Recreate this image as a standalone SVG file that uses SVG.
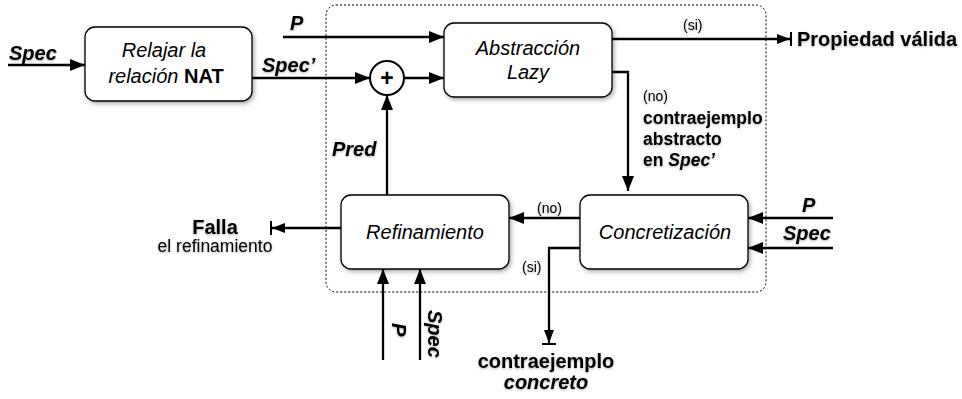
<svg xmlns="http://www.w3.org/2000/svg" width="962" height="399" viewBox="0 0 962 399">
<style>
.box{fill:#fff;stroke:#000;stroke-width:1.3}
.ln{fill:none;stroke:#000;stroke-width:2.3}
.bt{font-family:"Liberation Sans",Arial,sans-serif;font-size:20px;font-style:italic;text-anchor:middle}
.lb{font-family:"Liberation Sans",Arial,sans-serif;font-weight:bold;font-size:20px}
.bi{font-family:"Liberation Sans",Arial,sans-serif;font-weight:bold;font-style:italic;font-size:20px}
.sm{font-family:"Liberation Sans",Arial,sans-serif;font-size:14px}
.md{font-family:"Liberation Sans",Arial,sans-serif;font-size:17.5px}
.ab{font-family:"Liberation Sans",Arial,sans-serif;font-weight:bold;font-size:17.5px}
</style>
<defs>
<marker id="ah" viewBox="0 0 15 12" refX="15" refY="6" markerWidth="15" markerHeight="12" markerUnits="userSpaceOnUse" orient="auto">
<path d="M0,0 L15,6 L0,12 Z" fill="#000"/>
</marker>
<marker id="ahb" viewBox="0 0 15 14" refX="14" refY="7" markerWidth="15" markerHeight="14" markerUnits="userSpaceOnUse" orient="auto">
<path d="M0,2 L13,7 L0,12 Z" fill="#000"/>
<path d="M14,0 L14,14" stroke="#000" stroke-width="2"/>
</marker>
<filter id="sh" x="-10%" y="-10%" width="130%" height="130%">
<feDropShadow dx="1.5" dy="2" stdDeviation="2" flood-color="#000" flood-opacity="0.35"/>
</filter>
<filter id="ts" x="-10%" y="-20%" width="120%" height="150%">
<feDropShadow dx="0" dy="1" stdDeviation="1.2" flood-color="#000" flood-opacity="0.3"/>
</filter>
</defs>

<rect id="container" x="326" y="5" width="440" height="287" rx="10" fill="none" stroke="#000" stroke-width="1" stroke-dasharray="2,2"/>

<g id="relajar">
<rect class="box" x="85" y="27" width="167" height="74" rx="10" filter="url(#sh)"/>
<text class="bt" x="164" y="57">Relajar la</text>
<text class="bt" x="166" y="83">relación <tspan font-style="normal" font-weight="bold">NAT</tspan></text>
</g>

<g id="abstraccion">
<rect class="box" x="444" y="23" width="168" height="74" rx="10" filter="url(#sh)"/>
<text class="bt" x="528" y="55">Abstracción</text>
<text class="bt" x="528" y="79">Lazy</text>
</g>

<g id="suma">
<circle cx="387" cy="78" r="17" fill="#fff" stroke="#000" stroke-width="2"/>
<text x="387" y="86" text-anchor="middle" font-family="Liberation Sans,Arial,sans-serif" font-weight="bold" font-size="23">+</text>
</g>

<g id="concretizacion">
<rect class="box" x="580" y="195" width="168" height="74" rx="10" filter="url(#sh)"/>
<text class="bt" x="665" y="239">Concretización</text>
</g>

<g id="refinamiento">
<rect class="box" x="341" y="195" width="168" height="74" rx="10" filter="url(#sh)"/>
<text class="bt" x="425" y="239">Refinamiento</text>
</g>

<g id="connectors">
<path class="ln" d="M8,65 L85,65" marker-end="url(#ah)"/>
<path class="ln" d="M283,37 L444,37" marker-end="url(#ah)"/>
<path class="ln" d="M252,78 L370,78" marker-end="url(#ah)"/>
<path class="ln" d="M404,78 L444,78" marker-end="url(#ah)"/>
<path class="ln" d="M612,39 L791,39" marker-end="url(#ahb)"/>
<path class="ln" d="M612,72 L628,72 L628,191" marker-end="url(#ah)"/>
<path class="ln" d="M580,218 L509,218" marker-end="url(#ah)"/>
<path class="ln" d="M833,218 L748,218" marker-end="url(#ah)"/>
<path class="ln" d="M833,248 L748,248" marker-end="url(#ah)"/>
<path class="ln" d="M580,248 L549,248 L549,344" marker-end="url(#ahb)"/>
<path class="ln" d="M387,195 L387,95" marker-end="url(#ah)"/>
<path class="ln" d="M383,360 L383,269" marker-end="url(#ah)"/>
<path class="ln" d="M420,360 L420,269" marker-end="url(#ah)"/>
<path class="ln" d="M341,228 L271,228" marker-end="url(#ahb)"/>
</g>

<g id="labels" filter="url(#ts)">
<text class="bi" x="9" y="60">Spec</text>
<text class="bi" x="290" y="30">P</text>
<text class="bi" x="262" y="72">Spec’</text>
<text class="sm" x="683" y="30">(si)</text>
<text class="lb" x="797" y="46">Propiedad válida</text>
<text class="sm" x="643" y="101">(no)</text>
<text class="ab" x="643" y="124">contraejemplo</text>
<text class="ab" x="643" y="145">abstracto</text>
<text class="ab" x="643" y="166">en <tspan font-style="italic">Spec’</tspan></text>
<text class="bi" x="332" y="156">Pred</text>
<text class="sm" x="537" y="213">(no)</text>
<text class="bi" x="802" y="212">P</text>
<text class="bi" x="783" y="240">Spec</text>
<text class="sm" x="522" y="272">(si)</text>
<text class="lb" x="215" y="234" text-anchor="middle">Falla</text>
<text class="md" x="215" y="252" text-anchor="middle">el refinamiento</text>
<text class="lb" x="546" y="368" text-anchor="middle">contraejemplo</text>
<text class="bi" x="546" y="389" text-anchor="middle">concreto</text>
<text class="bi" transform="translate(392,323) rotate(90)">P</text>
<text class="bi" transform="translate(428,310) rotate(90)">Spec</text>
</g>
</svg>
